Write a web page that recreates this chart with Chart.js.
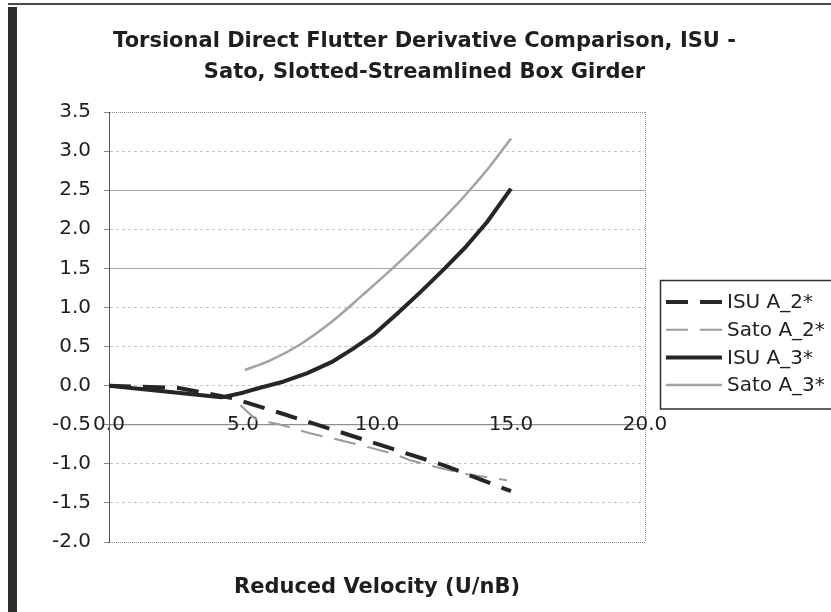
<!DOCTYPE html>
<html>
<head>
<meta charset="utf-8">
<script src="https://cdn.jsdelivr.net/npm/chart.js@4.4.1/dist/chart.umd.min.js"></script>
<style>
  html, body { margin: 0; padding: 0; background: #fff; }
  #wrap { position: relative; width: 831px; height: 612px; overflow: hidden; background: #fff; }
  #c { position: absolute; left: 0; top: 0; }
  #frameLeft { position: absolute; left: 8px; top: 7px; width: 9px; height: 605px; background: #2e2e2e; }
  #frameTop { position: absolute; left: 8px; top: 3px; width: 823px; height: 2px; background: #4a4a4a; }
</style>
</head>
<body>
<div id="wrap">
  <canvas id="c" width="831" height="612"></canvas>
  <div id="frameLeft"></div>
  <div id="frameTop"></div>
</div>
<script>
// Text
const titleLines = ['Torsional Direct Flutter Derivative Comparison, ISU -', 'Sato, Slotted-Streamlined Box Girder'];
const xAxisTitle = 'Reduced Velocity (U/nB)';
const seriesNames = ['ISU A_2*', 'Sato A_2*', 'ISU A_3*', 'Sato A_3*'];

// Axis ticks
const xTicks = [0, 5, 10, 15, 20];
const yTicks = [-2.0, -1.5, -1.0, -0.5, 0.0, 0.5, 1.0, 1.5, 2.0, 2.5, 3.0, 3.5];

// ISU A_2*
const isuA2X = [0.0, 2.6, 4.6, 6.3, 8.5, 10.5, 12.5, 15.0];
const isuA2Y = [0.0, -0.03, -0.16, -0.34, -0.58, -0.80, -1.02, -1.35];

// Sato A_2*
const satoA2X = [4.9, 5.5, 6.3, 7.5, 8.4, 9.6, 10.6, 11.2, 12.2, 13.3, 14.85];
const satoA2Y = [-0.25, -0.44, -0.49, -0.61, -0.68, -0.78, -0.87, -0.95, -1.04, -1.13, -1.21];

// ISU A_3*
const isuA3X = [0.0, 4.2, 5.0, 5.6, 6.5, 7.4, 8.3, 9.1, 9.9, 10.75, 11.6, 12.5, 13.3, 14.1, 15.0];
const isuA3Y = [0.0, -0.15, -0.09, -0.03, 0.05, 0.16, 0.30, 0.47, 0.66, 0.92, 1.19, 1.49, 1.77, 2.09, 2.52];

// Sato A_3*
const satoA3X = [5.07, 6.0, 7.1, 8.25, 9.5, 10.8, 12.0, 13.2, 14.2, 15.0];
const satoA3Y = [0.20, 0.32, 0.52, 0.80, 1.17, 1.57, 1.97, 2.40, 2.80, 3.16];

const FONT = '"DejaVu Sans", Verdana, sans-serif';
const TEXT = '#1e1e1e';

const pts = (xs, ys) => xs.map((x, i) => ({ x: x, y: ys[i] }));

// Legend drawn in a framed box to the right of the plot
const boxedLegend = {
  id: 'boxedLegend',
  afterDraw(chart) {
    const ctx = chart.ctx;
    ctx.save();
    ctx.strokeStyle = '#303030';
    ctx.lineWidth = 1.5;
    ctx.strokeRect(660.5, 280.5, 220, 128.5);
    chart.data.datasets.forEach((ds, i) => {
      const y = 302 + i * 27.7;
      ctx.beginPath();
      ctx.setLineDash(ds.borderDash || []);
      ctx.lineWidth = ds.borderWidth;
      ctx.strokeStyle = ds.borderColor;
      ctx.moveTo(666, y);
      ctx.lineTo(722, y);
      ctx.stroke();
      ctx.setLineDash([]);
      ctx.fillStyle = TEXT;
      ctx.font = '20px ' + FONT;
      ctx.textBaseline = 'middle';
      ctx.textAlign = 'left';
      ctx.fillText(ds.label, 727, y + 1);
    });
    ctx.restore();
  }
};

const strongGrid = v => Math.abs(v - 2.5) < 1e-9 || Math.abs(v - 1.5) < 1e-9;
const edgeGrid = v => Math.abs(v - 3.5) < 1e-9 || Math.abs(v + 2.0) < 1e-9;

new Chart(document.getElementById('c'), {
  type: 'scatter',
  data: {
    datasets: [
      { label: seriesNames[0], data: pts(isuA2X, isuA2Y), borderColor: '#262626', borderWidth: 4, borderDash: [22, 12], order: 1 },
      { label: seriesNames[1], data: pts(satoA2X, satoA2Y), borderColor: '#9b9b9b', borderWidth: 2, borderDash: [22, 12], order: 3 },
      { label: seriesNames[2], data: pts(isuA3X, isuA3Y), borderColor: '#262626', borderWidth: 4, borderDash: [], order: 2 },
      { label: seriesNames[3], data: pts(satoA3X, satoA3Y), borderColor: '#a3a3a3', borderWidth: 2.5, borderDash: [], order: 4, cubicInterpolationMode: 'monotone' }
    ].map(d => Object.assign({ showLine: true, pointRadius: 0, pointHoverRadius: 0, fill: false, borderJoinStyle: 'round', tension: 0 }, d))
  },
  options: {
    responsive: false,
    animation: false,
    devicePixelRatio: 1,
    layout: { padding: { left: 18, right: 0, top: 0, bottom: 0 } },
    plugins: {
      legend: { display: false },
      tooltip: { enabled: false },
      title: {
        display: true,
        text: titleLines,
        color: TEXT,
        font: { family: FONT, size: 21, weight: 'bold', lineHeight: 31 / 21 },
        padding: { top: 26.5, bottom: 23.5 }
      },
      subtitle: {
        display: true,
        position: 'bottom',
        fullSize: false,
        text: xAxisTitle,
        color: TEXT,
        font: { family: FONT, size: 21, weight: 'bold', lineHeight: 1.2 },
        padding: { top: 33.4, bottom: 11.4 }
      }
    },
    scales: {
      x: {
        type: 'linear',
        min: 0,
        max: 20,
        position: { y: -0.5 },
        afterBuildTicks: s => { s.ticks = xTicks.map(v => ({ value: v })); },
        ticks: {
          callback: v => Number(v).toFixed(1),
          color: TEXT,
          font: { family: FONT, size: 20 },
          padding: -12,
          maxRotation: 0,
          autoSkip: false
        },
        grid: {
          drawTicks: false,
          lineWidth: 1,
          color: ctx => (ctx.tick && ctx.tick.value === 20) ? '#8c8c8c' : 'rgba(0,0,0,0)'
        },
        border: { display: true, color: '#8f8f8f', width: 1.2, dash: [1, 1] }
      },
      y: {
        type: 'linear',
        min: -2,
        max: 3.5,
        position: 'left',
        afterBuildTicks: s => { s.ticks = yTicks.map(v => ({ value: v })); },
        afterFit: s => { s.width = 91; },
        ticks: {
          callback: v => Number(v).toFixed(1),
          color: TEXT,
          font: { family: FONT, size: 20 },
          padding: 13
        },
        grid: {
          tickLength: 5,
          tickColor: '#8a8a8a',
          lineWidth: 1,
          color: ctx => {
            const v = ctx.tick ? ctx.tick.value : 0;
            if (Math.abs(v + 0.5) < 1e-9) return 'rgba(0,0,0,0)';
            if (edgeGrid(v)) return '#8c8c8c';
            if (strongGrid(v)) return '#a6a6a6';
            return '#c6c6c6';
          }
        },
        border: {
          display: true,
          color: '#555555',
          width: 1,
          dash: ctx => {
            const v = ctx.tick ? ctx.tick.value : 0;
            if (edgeGrid(v)) return [1, 1];
            if (strongGrid(v)) return [];
            return [3, 3];
          }
        }
      },
      legendSpace: {
        type: 'linear',
        position: 'right',
        display: true,
        grid: { display: false },
        ticks: { display: false },
        border: { display: false },
        afterFit: s => { s.width = 186; }
      }
    }
  },
  plugins: [boxedLegend]
});
</script>
</body>
</html>
